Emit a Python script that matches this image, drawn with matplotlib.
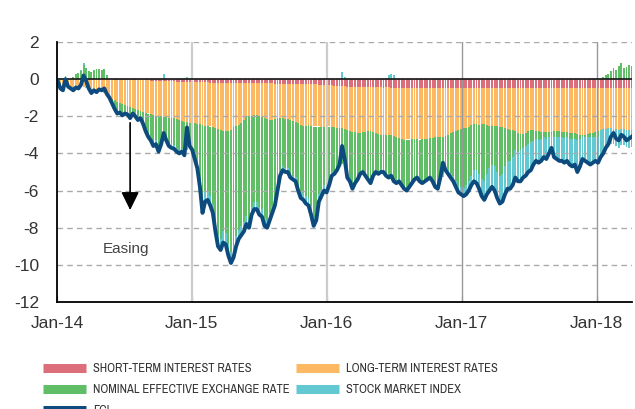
import numpy as np
import pandas as pd
import matplotlib
matplotlib.use('Agg')
import matplotlib.pyplot as plt
from matplotlib.lines import Line2D
from matplotlib import font_manager

# --- data (weekly) ---
short_rates = [
    0, 0, 0, 0, 0, 0, 0, 0, 0, 0,
    0, 0, 0, 0, 0, 0, 0, 0, 0, 0,
    0, 0, -0.02, -0.02, -0.02, -0.03, -0.03, -0.03, -0.04, -0.04,
    -0.05, -0.05, -0.06, -0.06, -0.07, -0.07, -0.08, -0.08, -0.09, -0.09,
    -0.10, -0.10, -0.11, -0.11, -0.12, -0.12, -0.13, -0.13, -0.14, -0.14,
    -0.15, -0.15, -0.16, -0.16, -0.17, -0.17, -0.18, -0.18, -0.18, -0.19,
    -0.19, -0.19, -0.20, -0.20, -0.20, -0.20, -0.20, -0.21, -0.21, -0.21,
    -0.21, -0.21, -0.22, -0.22, -0.22, -0.22, -0.22, -0.22, -0.23, -0.23,
    -0.23, -0.23, -0.23, -0.23, -0.24, -0.24, -0.24, -0.24, -0.24, -0.24,
    -0.24, -0.25, -0.25, -0.25, -0.25, -0.26, -0.26, -0.27, -0.27, -0.28,
    -0.28, -0.29, -0.30, -0.31, -0.32, -0.33, -0.34, -0.35, -0.36, -0.37,
    -0.38, -0.39, -0.40, -0.41, -0.42, -0.43, -0.44, -0.44, -0.45, -0.45,
    -0.45, -0.45, -0.45, -0.45, -0.45, -0.45, -0.46, -0.45, -0.45, -0.46,
    -0.46, -0.46, -0.46, -0.46, -0.47, -0.46, -0.46, -0.46, -0.46, -0.46,
    -0.46, -0.46, -0.47, -0.46, -0.46, -0.46, -0.46, -0.47, -0.46, -0.46,
    -0.47, -0.47, -0.47, -0.46, -0.47, -0.47, -0.47, -0.47, -0.48, -0.47,
    -0.47, -0.47, -0.47, -0.47, -0.46, -0.47, -0.47, -0.47, -0.47, -0.47,
    -0.47, -0.48, -0.47, -0.47, -0.47, -0.47, -0.47, -0.48, -0.47, -0.47,
    -0.47, -0.47, -0.47, -0.47, -0.48, -0.47, -0.47, -0.47, -0.47, -0.47,
    -0.47, -0.47, -0.47, -0.48, -0.47, -0.47, -0.47, -0.47, -0.47, -0.47,
    -0.47, -0.47, -0.47, -0.47, -0.47, -0.48, -0.47, -0.47, -0.47, -0.47,
    -0.47, -0.47, -0.47, -0.47, -0.47, -0.47, -0.48, -0.47, -0.47, -0.47,
    -0.47, -0.47, -0.47,
]

long_rates = [
    -0.1, -0.2, -0.3, -0.3, -0.3, -0.35, -0.4, -0.35, -0.4, -0.4,
    -0.4, -0.45, -0.5, -0.55, -0.6, -0.6, -0.6, -0.65, -0.7, -0.8,
    -0.95, -1.05, -1.13, -1.23, -1.28, -1.32, -1.37, -1.42, -1.46, -1.51,
    -1.55, -1.6, -1.64, -1.69, -1.73, -1.78, -1.82, -1.87, -1.91, -1.91,
    -1.9, -1.95, -1.94, -1.99, -1.98, -1.98, -2.02, -2.07, -2.11, -2.16,
    -2.15, -2.2, -2.19, -2.19, -2.23, -2.23, -2.27, -2.32, -2.32, -2.36,
    -2.41, -2.46, -2.5, -2.55, -2.6, -2.6, -2.6, -2.54, -2.39, -2.29,
    -2.24, -2.14, -1.98, -1.83, -1.78, -1.78, -1.73, -1.73, -1.77, -1.82,
    -1.87, -1.92, -1.97, -1.97, -1.91, -1.86, -1.86, -1.86, -1.91, -1.91,
    -1.96, -2.0, -2.05, -2.1, -2.2, -2.24, -2.24, -2.18, -2.23, -2.27,
    -2.27, -2.26, -2.3, -2.29, -2.23, -2.22, -2.26, -2.25, -2.29, -2.28,
    -2.27, -2.31, -2.35, -2.39, -2.43, -2.42, -2.46, -2.46, -2.4, -2.4,
    -2.35, -2.35, -2.4, -2.45, -2.5, -2.55, -2.55, -2.55, -2.55, -2.55,
    -2.59, -2.64, -2.69, -2.74, -2.79, -2.79, -2.79, -2.74, -2.74, -2.74,
    -2.79, -2.74, -2.74, -2.74, -2.69, -2.69, -2.64, -2.64, -2.64, -2.64,
    -2.58, -2.53, -2.43, -2.38, -2.33, -2.28, -2.23, -2.18, -2.13, -2.08,
    -1.98, -1.93, -1.93, -1.98, -1.98, -1.93, -1.98, -2.03, -2.03, -2.03,
    -2.03, -2.08, -2.13, -2.18, -2.23, -2.28, -2.28, -2.33, -2.43, -2.48,
    -2.48, -2.43, -2.33, -2.28, -2.28, -2.33, -2.33, -2.38, -2.38, -2.38,
    -2.38, -2.38, -2.33, -2.33, -2.33, -2.38, -2.38, -2.38, -2.43, -2.43,
    -2.43, -2.48, -2.53, -2.53, -2.53, -2.48, -2.43, -2.43, -2.38, -2.33,
    -2.28, -2.23, -2.23, -2.18, -2.18, -2.23, -2.23, -2.28, -2.23, -2.23,
    -2.28, -2.28, -2.28,
]

neer = [
    0.05, -0.1, -0.1, 0.1, -0.05, 0.0, 0.1, 0.3, 0.35, 0.45,
    0.75, 0.6, 0.45, 0.4, 0.5, 0.55, 0.55, 0.5, 0.55, 0.2,
    0.0, -0.15, -0.3, -0.45, -0.4, -0.5, -0.35, -0.35, -0.45, -0.2,
    -0.3, -0.45, -0.3, -0.5, -0.85, -1.05, -1.2, -1.45, -1.3, -1.65,
    -1.3, -1.3, -1.15, -1.35, -1.4, -1.45, -1.55, -1.6, -1.5, -1.6,
    -1.5, -1.1, -1.25, -1.75, -2.1, -3.0, -3.8, -3.6, -3.5, -3.75,
    -4.1, -5.0, -5.7, -5.85, -5.4, -5.5, -6.1, -6.55, -6.4, -5.95,
    -5.65, -5.55, -5.5, -5.3, -5.55, -4.9, -4.65, -4.65, -4.9, -4.95,
    -5.4, -5.45, -5.0, -4.65, -4.3, -3.6, -2.85, -2.6, -2.65, -2.65,
    -2.9, -2.95, -2.95, -3.35, -3.6, -3.65, -3.8, -3.95, -4.35, -4.85,
    -4.55, -3.65, -3.35, -3.1, -3.25, -2.9, -2.4, -2.35, -2.15, -1.9,
    -1.9, -1.6, -2.45, -2.55, -2.85, -2.6, -2.4, -2.1, -2.05, -2.25,
    -2.5, -2.7, -2.25, -2.0, -2.05, -1.9, -1.9, -2.1, -2.3, -2.2,
    -2.45, -2.4, -2.25, -2.4, -2.55, -2.65, -2.45, -2.3, -2.1, -2.0,
    -2.15, -2.3, -2.2, -2.1, -2.05, -2.2, -2.55, -2.65, -2.05, -2.0,
    -1.65, -1.9, -2.15, -2.35, -2.7, -3.0, -3.1, -3.2, -3.1, -2.95,
    -2.75, -2.5, -2.5, -2.65, -2.95, -3.1, -2.65, -2.3, -2.1, -2.2,
    -2.5, -2.65, -2.5, -2.05, -1.7, -1.65, -1.45, -1.0, -1.0, -0.85,
    -0.75, -0.7, -0.7, -0.65, -0.55, -0.4, -0.5, -0.35, -0.25, -0.35,
    -0.25, -0.15, -0.3, -0.3, -0.3, -0.25, -0.3, -0.25, -0.3, -0.3,
    -0.3, -0.35, -0.2, -0.1, -0.1, -0.15, -0.2, -0.2, -0.25, -0.3,
    0.0, 0.1, 0.2, 0.3, 0.45, 0.6, 0.5, 0.7, 0.85, 0.6,
    0.65, 0.75, 0.7,
]

stock_index = [
    -0.05, -0.15, -0.15, 0.05, -0.1, -0.1, -0.15, -0.1, -0.1, 0.05,
    0.1, -0.05, -0.1, -0.15, -0.1, -0.1, -0.05, -0.05, -0.05, -0.1,
    -0.05, -0.1, -0.15, -0.15, -0.1, -0.1, -0.1, -0.1, -0.15, -0.1,
    -0.1, -0.1, -0.1, -0.15, -0.15, -0.2, -0.2, -0.2, -0.2, -0.25,
    -0.2, 0.25, -0.1, -0.15, -0.2, -0.2, -0.2, -0.2, -0.15, -0.2,
    0.1, -0.15, -0.2, -0.2, -0.3, -0.4, -0.5, -0.5, -0.5, -0.5,
    -0.5, -0.55, -0.6, -0.6, -0.6, -0.6, -0.6, -0.6, -0.6, -0.55,
    -0.5, -0.5, -0.5, -0.45, -0.45, -0.4, -0.4, -0.4, -0.4, -0.4,
    -0.4, -0.4, -0.4, -0.35, -0.35, -0.3, -0.25, -0.2, -0.2, -0.2,
    -0.2, -0.2, -0.25, -0.3, -0.35, -0.35, -0.4, -0.4, -0.45, -0.5,
    -0.5, -0.4, -0.35, -0.3, -0.3, -0.25, -0.2, -0.15, -0.1, -0.05,
    0.4, 0.1, -0.1, -0.15, -0.2, -0.15, -0.1, -0.1, -0.1, -0.1,
    -0.1, -0.1, -0.1, -0.1, -0.1, -0.1, -0.1, -0.1, 0.2, 0.3,
    0.2, -0.1, -0.1, -0.1, -0.1, -0.1, -0.1, -0.1, -0.1, -0.1,
    -0.1, -0.1, -0.1, -0.1, -0.1, -0.15, -0.15, -0.15, -0.15, -0.15,
    -0.2, -0.2, -0.25, -0.3, -0.3, -0.35, -0.4, -0.45, -0.5, -0.5,
    -0.5, -0.6, -0.7, -0.8, -0.9, -1.0, -1.1, -1.2, -1.2, -1.3,
    -1.4, -1.5, -1.5, -1.5, -1.5, -1.5, -1.5, -1.5, -1.6, -1.7,
    -1.6, -1.6, -1.5, -1.5, -1.3, -1.2, -1.2, -1.2, -1.1, -1.1,
    -0.9, -1.0, -1.1, -1.2, -1.3, -1.3, -1.35, -1.3, -1.4, -1.5,
    -1.4, -1.7, -1.5, -1.2, -1.3, -1.4, -1.5, -1.4, -1.3, -1.4,
    -1.45, -1.3, -1.1, -1.0, -0.85, -0.8, -0.9, -0.95, -0.85, -0.85,
    -0.9, -0.95, -0.9,
]

fci = [
    -0.1, -0.5, -0.6, 0.0, -0.4, -0.5, -0.6, -0.45, -0.5, -0.3,
    0.2, -0.1, -0.5, -0.75, -0.6, -0.7, -0.55, -0.6, -0.5, -0.8,
    -1.0, -1.3, -1.6, -1.85, -1.8, -1.95, -1.85, -1.9, -2.1, -1.85,
    -2.0, -2.2, -2.1, -2.4, -2.8, -3.1, -3.3, -3.6, -3.5, -3.9,
    -3.5, -2.9, -3.3, -3.6, -3.7, -3.75, -3.9, -4.0, -3.9, -4.1,
    -2.6, -3.6, -3.8, -4.3, -4.8, -5.8, -7.2, -6.6, -6.5, -6.8,
    -7.2, -8.2, -9.0, -9.2, -8.8, -8.9, -9.5, -9.9, -9.6, -9.0,
    -8.6, -8.4, -8.2, -7.8, -8.0, -7.3, -7.0, -7.0, -7.3, -7.4,
    -7.9, -8.0, -7.6, -7.2, -6.8, -6.0, -5.2, -4.9, -5.0, -5.0,
    -5.3, -5.4, -5.5, -6.0, -6.4, -6.5, -6.7, -6.8, -7.3, -7.9,
    -7.6, -6.6, -6.3, -6.0, -6.1, -5.7, -5.2, -5.1, -4.9, -4.6,
    -3.6, -4.3, -5.3, -5.5, -5.9, -5.6, -5.4, -5.1, -5.0, -5.2,
    -5.4, -5.6, -5.2, -5.0, -5.1, -5.0, -5.0, -5.2, -5.3, -5.2,
    -5.5, -5.6, -5.5, -5.7, -5.9, -6.0, -5.8, -5.6, -5.4, -5.3,
    -5.5, -5.6, -5.5, -5.4, -5.3, -5.5, -5.8, -5.9, -5.3, -4.5,
    -4.9, -5.1, -5.3, -5.5, -5.8, -6.1, -6.2, -6.3, -6.2, -6.0,
    -5.7, -5.5, -5.6, -5.9, -6.3, -6.5, -6.2, -6.0, -5.8, -6.0,
    -6.4, -6.7, -6.6, -6.2, -5.9, -5.9, -5.7, -5.3, -5.5, -5.5,
    -5.3, -5.2, -5.0, -4.9, -4.6, -4.4, -4.5, -4.4, -4.2, -4.3,
    -4.0, -3.7, -4.2, -4.3, -4.4, -4.4, -4.5, -4.4, -4.6, -4.7,
    -4.6, -5.0, -4.7, -4.3, -4.4, -4.5, -4.6, -4.5, -4.4, -4.5,
    -4.2, -4.0, -3.7, -3.5, -3.1, -2.9, -3.2, -3.3, -3.0, -3.1,
    -3.3, -3.2, -3.1,
]

dates = pd.date_range('2014-01-03', periods=len(fci), freq='7D')

xtick_dates = ['2014-01-01', '2015-01-01', '2016-01-01', '2017-01-01', '2018-01-01']
xtick_labels = ['Jan-14', 'Jan-15', 'Jan-16', 'Jan-17', 'Jan-18']
yticks = [2, 0, -2, -4, -6, -8, -10, -12]

labels = ['SHORT-TERM INTEREST RATES', 'LONG-TERM INTEREST RATES',
          'NOMINAL EFFECTIVE EXCHANGE RATE', 'STOCK MARKET INDEX', 'FCI']
colors = ['#dc6e7c', '#fdb962', '#5fbe66', '#62c9d2', '#0d4a7e']

# --- pick a condensed font for the legend, if one is installed ---
legend_prop = None
for key in ['narrow', 'condensed']:
    for f in font_manager.fontManager.ttflist:
        if key in (f.name + ' ' + f.fname).lower() and 'bold' not in f.fname.lower() \
                and 'italic' not in f.fname.lower() and 'oblique' not in f.fname.lower():
            legend_prop = font_manager.FontProperties(fname=f.fname, size=9)
            break
    if legend_prop is not None:
        break
if legend_prop is None:
    legend_prop = font_manager.FontProperties(family='Liberation Sans', size=7.4)

# --- figure ---
plt.rcParams['font.family'] = ['Liberation Sans', 'DejaVu Sans']
fig = plt.figure(figsize=(6.35, 4.09), dpi=100)
ax = fig.add_axes([57/635, 1 - 302/409, 575/635, 260/409])

# stacked bars, positives up from 0, negatives down from 0
pos_base = np.zeros(len(fci))
neg_base = np.zeros(len(fci))
for vals, c in zip([short_rates, long_rates, neer, stock_index], colors[:4]):
    v = np.array(vals, dtype=float)
    bottom = np.where(v >= 0, pos_base, neg_base)
    ax.bar(dates, v, bottom=bottom, width=5.2, color=c, linewidth=0, zorder=1)
    pos_base = pos_base + np.where(v >= 0, v, 0)
    neg_base = neg_base + np.where(v < 0, v, 0)

# grid
for yv in [2, -2, -4, -6, -8, -10]:
    ax.axhline(yv, color='#aaaaaa', lw=1, dashes=(4, 3), zorder=2)
for d, gc, gw in zip(xtick_dates[1:], ['#cccccc', '#cccccc', '#999999', '#999999'], [1.6, 1.6, 1.0, 1.0]):
    ax.axvline(pd.Timestamp(d), color=gc, lw=gw, zorder=2)
ax.axhline(0, color='#222222', lw=1.3, zorder=3)

ax.plot(dates, fci, color=colors[4], lw=2.8, zorder=4, solid_joinstyle='round')

# easing arrow
ax.annotate('', xy=(pd.Timestamp('2014-07-18'), -7.05), xytext=(pd.Timestamp('2014-07-18'), -2.35),
            arrowprops=dict(arrowstyle='-|>,head_length=0.55,head_width=0.27', color='black',
                            lw=1.2, mutation_scale=20, shrinkA=0, shrinkB=0), zorder=5)
ax.text(pd.Timestamp('2014-07-06'), -9.15, 'Easing', ha='center', va='center',
        fontsize=11, color='#444444')

ax.set_ylim(-12, 2)
ax.set_xlim(pd.Timestamp('2014-01-01'), pd.Timestamp('2018-04-07'))
ax.set_yticks(yticks)
ax.set_yticklabels([str(y) for y in yticks])
ax.set_xticks([pd.Timestamp(d) for d in xtick_dates])
ax.set_xticklabels(xtick_labels)
ax.tick_params(axis='y', length=0, pad=13, labelsize=12.5, labelcolor='#333333')
ax.tick_params(axis='x', direction='in', length=4, color='#555555', pad=10,
               labelsize=12.5, labelcolor='#333333')
for s in ['top', 'right']:
    ax.spines[s].set_visible(False)
for s in ['left', 'bottom']:
    ax.spines[s].set_color('black')
    ax.spines[s].set_linewidth(1.3)
    ax.spines[s].set_zorder(5)

# legend: two columns placed separately
fs = legend_prop.get_size_in_points() * 100 / 72
leg_kw = dict(loc='upper left', frameon=False, prop=legend_prop,
              handlelength=43 / fs, handletextpad=7 / fs,
              labelspacing=10 / fs, borderpad=0, borderaxespad=0)
col1 = [0, 2, 4]
col2 = [1, 3]
leg1 = fig.legend([Line2D([], [], color=colors[i], lw=6.5, solid_capstyle='butt') for i in col1],
                  [labels[i] for i in col1], bbox_to_anchor=(43/635, 1 - 363/409), **leg_kw)
leg2 = fig.legend([Line2D([], [], color=colors[i], lw=6.5, solid_capstyle='butt') for i in col2],
                  [labels[i] for i in col2], bbox_to_anchor=(296/635, 1 - 363/409), **leg_kw)
for lg in [leg1, leg2]:
    for t in lg.get_texts():
        t.set_color('#333333')

fig.savefig('out.png', dpi=100)
